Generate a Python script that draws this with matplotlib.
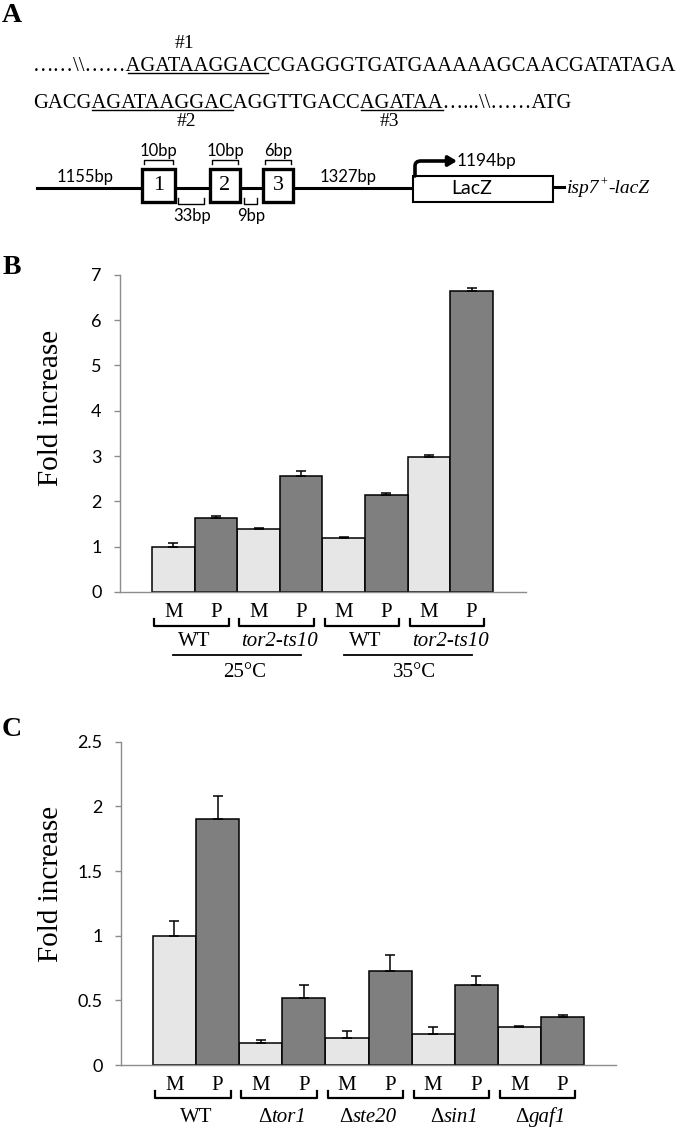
import matplotlib
matplotlib.use('Agg')
import matplotlib.pyplot as plt
import numpy as np
from matplotlib.path import Path
from matplotlib.patches import Rectangle, FancyArrowPatch

SERIF = 'Liberation Serif'
SANS = 'Lato'

# panel B data (M / P per strain and temperature)
b_groups = ['WT', 'tor2-ts10', 'WT', 'tor2-ts10']
b_temps = ['25°C', '35°C']
b_m = [1.00, 1.38, 1.19, 2.98]
b_m_err = [0.09, 0.03, 0.03, 0.04]
b_p = [1.64, 2.55, 2.13, 6.64]
b_p_err = [0.03, 0.12, 0.06, 0.06]
b_ticks = [0, 1, 2, 3, 4, 5, 6, 7]

# panel C data
c_groups = ['WT', 'tor1', 'ste20', 'sin1', 'gaf1']
c_m = [1.00, 0.17, 0.21, 0.24, 0.29]
c_m_err = [0.11, 0.025, 0.05, 0.05, 0.01]
c_p = [1.90, 0.52, 0.73, 0.62, 0.37]
c_p_err = [0.18, 0.10, 0.12, 0.07, 0.02]
c_ticks = [0, 0.5, 1, 1.5, 2, 2.5]
c_ticklabels = ['0', '0.5', '1', '1.5', '2', '2.5']

# panel A
seq1 = [('……\\\\……', False), ('AGATAAGGAC', True),
        ('CGAGGGTGATGAAAAAGCAACGATATAGA', False)]
seq2 = [('GACG', False), ('AGATAAGGAC', True), ('AGGTTGACC', False),
        ('AGATAA', True), ('…...\\\\……ATG', False)]
sites = ['#1', '#2', '#3']
boxes = ['1', '2', '3']
box_bp = ['10bp', '10bp', '6bp']
gap_bp = ['33bp', '9bp']

W, H = 680, 1127
fig = plt.figure(figsize=(W / 100, H / 100), dpi=100)

# overlay in picture pixels (y down) for panel A and all annotations
ov = fig.add_axes([0, 0, 1, 1])
ov.set_xlim(0, W)
ov.set_ylim(H, 0)
ov.axis('off')
r = fig.canvas.get_renderer()


def text_w(s, **kw):
    t = ov.text(0, 0, s, **kw)
    w = t.get_window_extent(r).width
    t.remove()
    return w


def rich(xc, base, pieces):
    # pieces: (text, fontsize, style); centred on xc
    ws = [text_w(s, fontsize=fs, family=SERIF, style=st) for s, fs, st in pieces]
    x = xc - sum(ws) / 2
    for (s, fs, st), w in zip(pieces, ws):
        ov.text(x, base, s, ha='left', va='baseline', fontsize=fs, family=SERIF, style=st)
        x += w


def seq_row(pieces, x0, base, fs):
    full = ''.join(s for s, _ in pieces)
    ov.text(x0, base, full, ha='left', va='baseline', fontsize=fs, family=SERIF)
    spans = []
    pre = ''
    for s, ul in pieces:
        a = x0 + (text_w(pre, fontsize=fs, family=SERIF) + 1 if pre else 0)
        pre += s
        b = x0 + text_w(pre, fontsize=fs, family=SERIF)
        if ul:
            ov.plot([a, b], [base + 2, base + 2], color='k', lw=1.0)
            spans.append((a, b))
    return spans


# fit font size of the first row to its width in the picture
tw = text_w(''.join(s for s, _ in seq1), fontsize=14.5, family=SERIF)
fs_seq = 14.5 * 642 / tw

sp1 = seq_row(seq1, 33, 71, fs_seq)
sp2 = seq_row(seq2, 33, 108, fs_seq)
ov.text(sum(sp1[0]) / 2 - 13, 43, sites[0], ha='center', va='center', fontsize=14, family=SERIF)
ov.text(sum(sp2[0]) / 2 + 24, 122, sites[1], ha='center', va='center', fontsize=14, family=SERIF)
ov.text(sum(sp2[1]) / 2 - 12, 122, sites[2], ha='center', va='center', fontsize=14, family=SERIF)

# construct diagram
ov.plot([37, 413], [188, 188], color='k', lw=2.2, zorder=1)
box_x = [(142, 175), (210, 240), (263, 293)]
for (x0, x1), lab, bp in zip(box_x, boxes, box_bp):
    ov.add_patch(Rectangle((x0, 169), x1 - x0, 33, fc='white', ec='k', lw=2.4, zorder=2))
    ov.text((x0 + x1) / 2, 186, lab, ha='center', va='center', fontsize=16, family=SERIF, zorder=3)
    ov.plot([x0 + 2, x0 + 2, x1 - 2, x1 - 2], [164, 160, 160, 164], color='k', lw=1.0)
    ov.text((x0 + x1) / 2, 151, bp, ha='center', va='center', fontsize=12, family=SANS)
for (x0, x1), bp in zip([(178, 204), (244, 257)], gap_bp):
    ov.plot([x0, x0, x1, x1], [198, 204, 204, 198], color='k', lw=1.0)
    ov.text((x0 + x1) / 2 + 1, 216, bp, ha='center', va='center', fontsize=12, family=SANS)
ov.text(85, 177, '1155bp', ha='center', va='center', fontsize=12, family=SANS)
ov.text(348, 177, '1327bp', ha='center', va='center', fontsize=12, family=SANS)
ov.add_patch(Rectangle((413, 176), 140, 26, fc='white', ec='k', lw=1.5, zorder=2))
ov.text(472, 189, 'LacZ', ha='center', va='center', fontsize=14, family=SANS, zorder=3)
ov.plot([553, 564], [187, 187], color='k', lw=2.2)
iw = text_w('isp7', fontsize=14, family=SERIF, style='italic')
pw = text_w('+', fontsize=9, family=SERIF, style='italic')
ov.text(567, 193, 'isp7', ha='left', va='baseline', fontsize=14, family=SERIF, style='italic')
ov.text(567 + iw, 186, '+', ha='left', va='baseline', fontsize=9, family=SERIF, style='italic')
ov.text(567 + iw + pw, 193, '-lacZ', ha='left', va='baseline', fontsize=14,
        family=SERIF, style='italic')
arrow_path = Path([(415, 176), (415, 166), (415, 161), (421, 161), (457, 161)],
                  [Path.MOVETO, Path.LINETO, Path.CURVE3, Path.CURVE3, Path.LINETO])
ov.add_patch(FancyArrowPatch(path=arrow_path, arrowstyle='-|>,head_length=0.5,head_width=0.3',
                             mutation_scale=10, lw=2.6, color='k', zorder=3))
ov.text(457, 161, '1194bp', ha='left', va='center', fontsize=12.5, family=SANS)

# panel letters
for lab, y in [('A', 16), ('B', 268), ('C', 730)]:
    ov.text(12, y, lab, ha='center', va='center', fontsize=20, weight='bold', family=SERIF)


def bar_panel(ax, m, m_err, p, p_err, xlim, ticks, ticklabels):
    n = len(m)
    xm = np.arange(n) * 2
    xp = xm + 1
    ax.bar(xm, m, width=1, color='#e6e6e6', edgecolor='black', linewidth=1.1)
    ax.bar(xp, p, width=1, color='#7f7f7f', edgecolor='black', linewidth=1.1)
    ax.errorbar(xm, m, yerr=[np.zeros(n), m_err], fmt='none', ecolor='black',
                elinewidth=1.1, capsize=3.5, capthick=1.1)
    ax.errorbar(xp, p, yerr=[np.zeros(n), p_err], fmt='none', ecolor='black',
                elinewidth=1.1, capsize=3.5, capthick=1.1)
    ax.set_xlim(*xlim)
    ax.set_ylim(ticks[0], ticks[-1])
    ax.set_yticks(ticks)
    ax.set_yticklabels(ticklabels, fontsize=13, family=SANS)
    ax.set_xticks([])
    for s in ['top', 'right']:
        ax.spines[s].set_visible(False)
    for s in ['left', 'bottom']:
        ax.spines[s].set_color('#8c8c8c')
        ax.spines[s].set_linewidth(1.0)
    ax.tick_params(axis='y', length=4.3, width=1.0, color='#8c8c8c', pad=9)
    return xm, xp


def px(ax, x):
    # data x of a bar axes -> picture pixel x
    return ax.transData.transform((x, 0))[0]


def pair_labels(ax, xm, xp, groups, y_mp, y_br, y_grp, delta):
    for a, b, g in zip(xm, xp, groups):
        ov.text(px(ax, a), y_mp, 'M', ha='center', va='baseline', fontsize=15, family=SERIF)
        ov.text(px(ax, b), y_mp, 'P', ha='center', va='baseline', fontsize=15, family=SERIF)
        ov.plot([px(ax, a - 0.45), px(ax, a - 0.45), px(ax, b + 0.3), px(ax, b + 0.3)],
                [y_br, y_br + 7, y_br + 7, y_br], color='k', lw=1.6)
        xc = px(ax, (a + b) / 2)
        if g == 'WT':
            rich(xc, y_grp, [(g, 15, 'normal')])
        elif delta:
            rich(xc, y_grp, [('Δ', 15, 'normal'), (g, 15, 'italic')])
        else:
            rich(xc, y_grp, [(g, 15, 'italic')])


# panel B
axb = fig.add_axes([120 / W, 1 - 592 / H, 406 / W, 317.3 / H])
xm, xp = bar_panel(axb, b_m, b_m_err, b_p, b_p_err, (-1.25, 8.275), b_ticks,
                   [str(t) for t in b_ticks])
pair_labels(axb, xm, xp, b_groups, 617, 619, 646, False)
for k, temp in enumerate(b_temps):
    a = px(axb, xm[2 * k])
    b = px(axb, xp[2 * k + 1])
    ov.plot([a, b], [655, 655], color='k', lw=1.3)
    ov.text((a + b) / 2 + 7, 677, temp, ha='center', va='baseline', fontsize=15, family=SERIF)
fig.text(51 / W, 1 - 408 / H, 'Fold increase', rotation=90, ha='center', va='center',
         fontsize=21, family=SERIF)

# panel C
axc = fig.add_axes([121 / W, 1 - 1065 / H, 495 / W, 323.3 / H])
xm, xp = bar_panel(axc, c_m, c_m_err, c_p, c_p_err, (-1.24, 10.24), c_ticks, c_ticklabels)
pair_labels(axc, xm, xp, c_groups, 1090, 1091, 1122, True)
fig.text(51 / W, 1 - 884 / H, 'Fold increase', rotation=90, ha='center', va='center',
         fontsize=21, family=SERIF)

fig.savefig('out.png', dpi=100)
